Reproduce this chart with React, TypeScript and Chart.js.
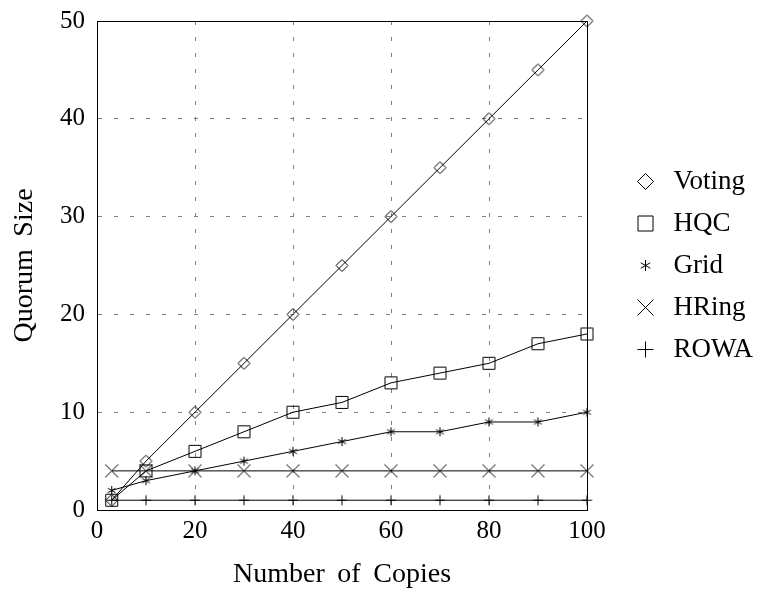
import React, { useEffect, useRef } from 'react';
import { Chart, registerables } from 'chart.js';

Chart.register(...registerables);

const copies = [3, 10, 20, 30, 40, 50, 60, 70, 80, 90, 100];
const voting = [1, 5, 10, 15, 20, 25, 30, 35, 40, 45, 50];
const hqc = [1, 4, 6, 8, 10, 11, 13, 14, 15, 17, 18];
const gridQ = [2, 3, 4, 5, 6, 7, 8, 8, 9, 9, 10];
const hring = [4, 4, 4, 4, 4, 4, 4, 4, 4, 4, 4];
const rowa = [1, 1, 1, 1, 1, 1, 1, 1, 1, 1, 1];
const seriesNames = ['Voting', 'HQC', 'Grid', 'HRing', 'ROWA'];
const seriesValues = [voting, hqc, gridQ, hring, rowa];
const xMin = 0, xMax = 100, xStep = 20;
const yMin = 0, yMax = 50, yStep = 10;
const xTitle = 'Number \u2009of \u2009Copies';
const yTitle = 'Quorum \u2009Size';

type Kind = 'diamond' | 'square' | 'asterisk' | 'x' | 'plus';
const kinds: Kind[] = ['diamond', 'square', 'asterisk', 'x', 'plus'];
const plotR: Record<Kind, number> = { diamond: 6, square: 6, asterisk: 4.5, x: 6.5, plus: 5 };
const legendR: Record<Kind, number> = { diamond: 8, square: 7.5, asterisk: 5.5, x: 8, plus: 8 };

const FONT = "'Liberation Serif', 'Times New Roman', serif";

function makeMarker(kind: Kind, r: number): HTMLCanvasElement {
  let size = Math.ceil(2 * r + 4);
  if (size % 2 === 0) size += 1;
  const c = document.createElement('canvas');
  c.width = size;
  c.height = size;
  const g = c.getContext('2d')!;
  const m = size / 2;
  g.strokeStyle = '#000';
  g.lineWidth = 1;
  g.beginPath();
  if (kind === 'diamond') {
    g.moveTo(m, m - r); g.lineTo(m + r, m); g.lineTo(m, m + r); g.lineTo(m - r, m); g.closePath();
  } else if (kind === 'square') {
    g.rect(m - r, m - r, 2 * r, 2 * r);
  } else if (kind === 'x') {
    g.moveTo(m - r, m - r); g.lineTo(m + r, m + r);
    g.moveTo(m + r, m - r); g.lineTo(m - r, m + r);
  } else if (kind === 'plus') {
    g.moveTo(m - r, m); g.lineTo(m + r, m);
    g.moveTo(m, m - r); g.lineTo(m, m + r);
  } else {
    g.moveTo(m, m - r); g.lineTo(m, m + r);
    const dx = r * Math.cos(Math.PI / 6), dy = r * Math.sin(Math.PI / 6);
    g.moveTo(m - dx, m - dy); g.lineTo(m + dx, m + dy);
    g.moveTo(m + dx, m - dy); g.lineTo(m - dx, m + dy);
  }
  g.stroke();
  return c;
}

export default function App() {
  const ref = useRef<HTMLCanvasElement | null>(null);
  useEffect(() => {
    if (!ref.current) return;
    const plotMarkers = kinds.map(k => makeMarker(k, plotR[k]));
    const legendMarkers = kinds.map(k => makeMarker(k, legendR[k]));
    const datasets = seriesNames.map((name, i) => ({
      label: name,
      data: copies.map((x, j) => ({ x, y: seriesValues[i][j] })),
      borderColor: '#000',
      borderWidth: 1,
      backgroundColor: 'transparent',
      pointStyle: plotMarkers[i] as any,
      pointRadius: 6,
      tension: 0,
      clip: false as any,
    }));
    const gridColor = (edgeLo: number, edgeHi: number) => (ctx: any) =>
      ctx.tick && (ctx.tick.value === edgeLo || ctx.tick.value === edgeHi) ? '#000' : '#808080';
    const gridDash = (edgeLo: number, edgeHi: number) => (ctx: any) =>
      ctx.tick && !(ctx.tick.value === edgeLo || ctx.tick.value === edgeHi) ? [4, 12] : [];
    const chart = new Chart(ref.current, {
      type: 'line',
      data: { datasets },
      options: {
        animation: false,
        responsive: false,
        events: [],
        layout: { padding: { left: 0, right: 3, top: 21, bottom: 0 } },
        scales: {
          x: {
            type: 'linear',
            min: xMin,
            max: xMax,
            ticks: { stepSize: xStep, color: '#000', font: { family: FONT, size: 25 }, padding: 6, maxRotation: 0, autoSkip: false },
            grid: { drawTicks: false, color: gridColor(xMin, xMax), lineWidth: 1 },
            border: { display: true, color: '#000', width: 1, dash: gridDash(xMin, xMax) as any },
            title: { display: true, text: xTitle, color: '#000', font: { family: FONT, size: 28 }, padding: { top: 0, bottom: 0 } },
            afterFit: (s: any) => { s.height = 81; },
          },
          y: {
            type: 'linear',
            min: yMin,
            max: yMax,
            ticks: { stepSize: yStep, color: '#000', font: { family: FONT, size: 25 }, padding: 0 },
            grid: { drawTicks: true, tickLength: 12, tickColor: 'rgba(0,0,0,0)', color: gridColor(yMin, yMax), lineWidth: 1 },
            border: { display: true, color: '#000', width: 1, dash: gridDash(yMin, yMax) as any },
            title: { display: true, text: yTitle, color: '#000', font: { family: FONT, size: 28 }, padding: { top: 8, bottom: 0 } },
            afterFit: (s: any) => { s.width = 97; },
          },
          spacer: {
            type: 'linear',
            position: 'right',
            display: true,
            grid: { display: false, drawOnChartArea: false, drawTicks: false },
            ticks: { display: false },
            border: { display: false },
            afterFit: (s: any) => { s.width = 29; },
          },
        },
        plugins: {
          tooltip: { enabled: false },
          legend: {
            display: true,
            position: 'right',
            fullSize: false,
            align: 'center',
            maxWidth: 140,
            labels: {
              usePointStyle: true,
              pointStyleWidth: 29,
              padding: 15,
              color: '#000',
              font: { family: FONT, size: 27 },
              generateLabels: (c: any) => {
                const items = (Chart.defaults.plugins.legend.labels as any).generateLabels(c);
                return items.map((it: any, i: number) => ({ ...it, pointStyle: legendMarkers[i], fontColor: '#000' }));
              },
            },
          },
        },
      } as any,
    });
    return () => chart.destroy();
  }, []);
  return (
    <div style={{ position: 'fixed', left: 0, top: 0, width: 759, height: 591, background: '#fff' }}>
      <canvas ref={ref} width={759} height={591} style={{ display: 'block' }} />
    </div>
  );
}
